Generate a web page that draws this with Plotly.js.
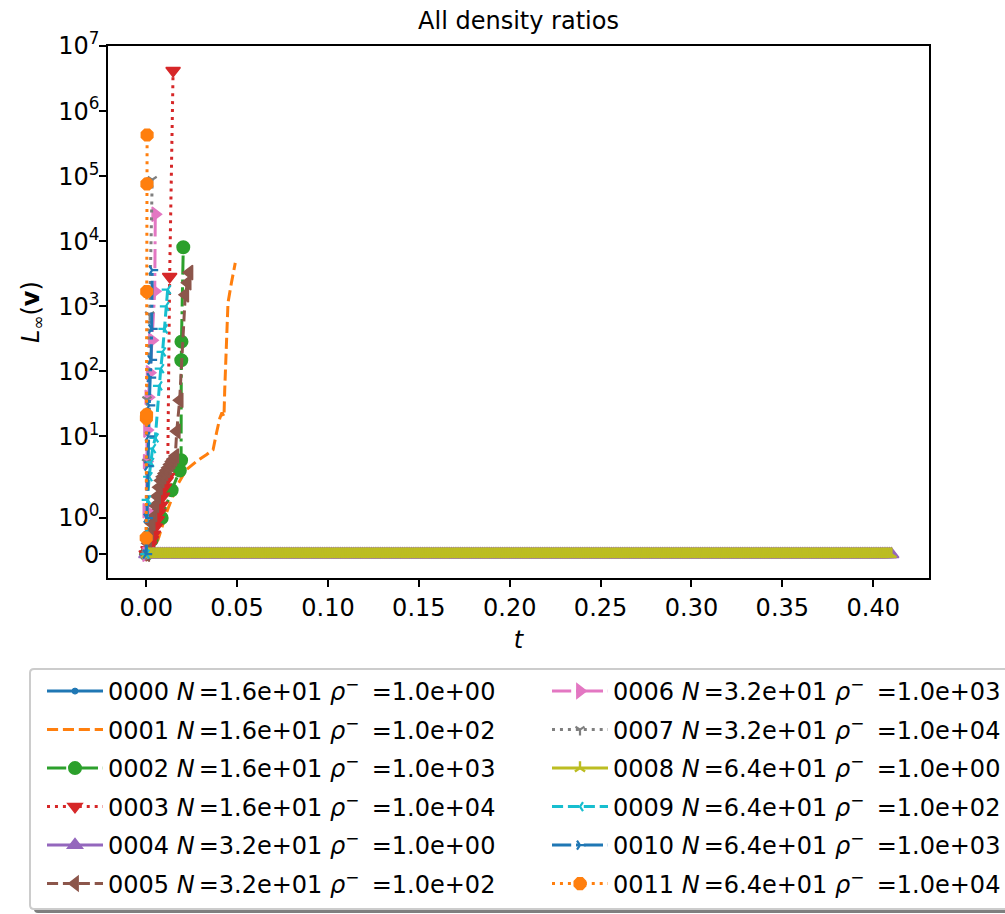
<!DOCTYPE html>
<html>
<head>
<meta charset="utf-8">
<script src="https://cdn.plot.ly/plotly-3.0.1.min.js"></script>
<style>html,body{margin:0;padding:0;background:#fff;}</style>
</head>
<body>
<div id="chart" style="width:1005px;height:914px;"></div>
<script>
// ---------------- data ----------------
const runIds  = ['0000','0001','0002','0003','0004','0005','0006','0007','0008','0009','0010','0011'];
const runN    = ['1.6e+01','1.6e+01','1.6e+01','1.6e+01','3.2e+01','3.2e+01','3.2e+01','3.2e+01','6.4e+01','6.4e+01','6.4e+01','6.4e+01'];
const runRho  = ['1.0e+00','1.0e+02','1.0e+03','1.0e+04','1.0e+00','1.0e+02','1.0e+03','1.0e+04','1.0e+00','1.0e+02','1.0e+03','1.0e+04'];

// runs with density ratio 1 stay at zero for the whole simulated time (output every 0.001)
const tFlat = [
  0.000,0.001,0.002,0.003,0.004,0.005,0.006,0.007,0.008,0.009,0.010,0.011,0.012,0.013,0.014,0.015,0.016,0.017,0.018,0.019,
  0.020,0.021,0.022,0.023,0.024,0.025,0.026,0.027,0.028,0.029,0.030,0.031,0.032,0.033,0.034,0.035,0.036,0.037,0.038,0.039,
  0.040,0.041,0.042,0.043,0.044,0.045,0.046,0.047,0.048,0.049,0.050,0.051,0.052,0.053,0.054,0.055,0.056,0.057,0.058,0.059,
  0.060,0.061,0.062,0.063,0.064,0.065,0.066,0.067,0.068,0.069,0.070,0.071,0.072,0.073,0.074,0.075,0.076,0.077,0.078,0.079,
  0.080,0.081,0.082,0.083,0.084,0.085,0.086,0.087,0.088,0.089,0.090,0.091,0.092,0.093,0.094,0.095,0.096,0.097,0.098,0.099,
  0.100,0.101,0.102,0.103,0.104,0.105,0.106,0.107,0.108,0.109,0.110,0.111,0.112,0.113,0.114,0.115,0.116,0.117,0.118,0.119,
  0.120,0.121,0.122,0.123,0.124,0.125,0.126,0.127,0.128,0.129,0.130,0.131,0.132,0.133,0.134,0.135,0.136,0.137,0.138,0.139,
  0.140,0.141,0.142,0.143,0.144,0.145,0.146,0.147,0.148,0.149,0.150,0.151,0.152,0.153,0.154,0.155,0.156,0.157,0.158,0.159,
  0.160,0.161,0.162,0.163,0.164,0.165,0.166,0.167,0.168,0.169,0.170,0.171,0.172,0.173,0.174,0.175,0.176,0.177,0.178,0.179,
  0.180,0.181,0.182,0.183,0.184,0.185,0.186,0.187,0.188,0.189,0.190,0.191,0.192,0.193,0.194,0.195,0.196,0.197,0.198,0.199,
  0.200,0.201,0.202,0.203,0.204,0.205,0.206,0.207,0.208,0.209,0.210,0.211,0.212,0.213,0.214,0.215,0.216,0.217,0.218,0.219,
  0.220,0.221,0.222,0.223,0.224,0.225,0.226,0.227,0.228,0.229,0.230,0.231,0.232,0.233,0.234,0.235,0.236,0.237,0.238,0.239,
  0.240,0.241,0.242,0.243,0.244,0.245,0.246,0.247,0.248,0.249,0.250,0.251,0.252,0.253,0.254,0.255,0.256,0.257,0.258,0.259,
  0.260,0.261,0.262,0.263,0.264,0.265,0.266,0.267,0.268,0.269,0.270,0.271,0.272,0.273,0.274,0.275,0.276,0.277,0.278,0.279,
  0.280,0.281,0.282,0.283,0.284,0.285,0.286,0.287,0.288,0.289,0.290,0.291,0.292,0.293,0.294,0.295,0.296,0.297,0.298,0.299,
  0.300,0.301,0.302,0.303,0.304,0.305,0.306,0.307,0.308,0.309,0.310,0.311,0.312,0.313,0.314,0.315,0.316,0.317,0.318,0.319,
  0.320,0.321,0.322,0.323,0.324,0.325,0.326,0.327,0.328,0.329,0.330,0.331,0.332,0.333,0.334,0.335,0.336,0.337,0.338,0.339,
  0.340,0.341,0.342,0.343,0.344,0.345,0.346,0.347,0.348,0.349,0.350,0.351,0.352,0.353,0.354,0.355,0.356,0.357,0.358,0.359,
  0.360,0.361,0.362,0.363,0.364,0.365,0.366,0.367,0.368,0.369,0.370,0.371,0.372,0.373,0.374,0.375,0.376,0.377,0.378,0.379,
  0.380,0.381,0.382,0.383,0.384,0.385,0.386,0.387,0.388,0.389,0.390,0.391,0.392,0.393,0.394,0.395,0.396,0.397,0.398,0.399,
  0.400,0.401,0.402,0.403,0.404,0.405,0.406,0.407,0.408,0.409,0.410];
const vFlat = [
  0,0,0,0,0,0,0,0,0,0,0,0,0,0,0,0,0,0,0,0,
  0,0,0,0,0,0,0,0,0,0,0,0,0,0,0,0,0,0,0,0,
  0,0,0,0,0,0,0,0,0,0,0,0,0,0,0,0,0,0,0,0,
  0,0,0,0,0,0,0,0,0,0,0,0,0,0,0,0,0,0,0,0,
  0,0,0,0,0,0,0,0,0,0,0,0,0,0,0,0,0,0,0,0,
  0,0,0,0,0,0,0,0,0,0,0,0,0,0,0,0,0,0,0,0,
  0,0,0,0,0,0,0,0,0,0,0,0,0,0,0,0,0,0,0,0,
  0,0,0,0,0,0,0,0,0,0,0,0,0,0,0,0,0,0,0,0,
  0,0,0,0,0,0,0,0,0,0,0,0,0,0,0,0,0,0,0,0,
  0,0,0,0,0,0,0,0,0,0,0,0,0,0,0,0,0,0,0,0,
  0,0,0,0,0,0,0,0,0,0,0,0,0,0,0,0,0,0,0,0,
  0,0,0,0,0,0,0,0,0,0,0,0,0,0,0,0,0,0,0,0,
  0,0,0,0,0,0,0,0,0,0,0,0,0,0,0,0,0,0,0,0,
  0,0,0,0,0,0,0,0,0,0,0,0,0,0,0,0,0,0,0,0,
  0,0,0,0,0,0,0,0,0,0,0,0,0,0,0,0,0,0,0,0,
  0,0,0,0,0,0,0,0,0,0,0,0,0,0,0,0,0,0,0,0,
  0,0,0,0,0,0,0,0,0,0,0,0,0,0,0,0,0,0,0,0,
  0,0,0,0,0,0,0,0,0,0,0,0,0,0,0,0,0,0,0,0,
  0,0,0,0,0,0,0,0,0,0,0,0,0,0,0,0,0,0,0,0,
  0,0,0,0,0,0,0,0,0,0,0,0,0,0,0,0,0,0,0,0,
  0,0,0,0,0,0,0,0,0,0,0];

const t0001 = [0, 0.0065, 0.0111, 0.0166, 0.0221, 0.0276, 0.0331, 0.0368, 0.0387, 0.0405, 0.0417, 0.0428, 0.0432, 0.0441, 0.0450, 0.0469, 0.0490];
const v0001 = [0, 0.40, 1.14, 1.87, 3.08, 4.12, 5.22, 6.24, 11.4, 19.1, 23.3, 20.2, 52, 240, 1130, 2300, 4650];

const t0002 = [0, 0.0030, 0.0085, 0.0140, 0.0185, 0.0192, 0.0193, 0.0194, 0.0204];
const v0002 = [0, 0.39, 1.0, 1.77, 3.0, 4.3, 148, 286, 8100];

const t0003 = [0, 0.0010, 0.0020, 0.0030, 0.0040, 0.0050, 0.0060, 0.0070, 0.0080, 0.0090, 0.0100, 0.0110, 0.0118, 0.0129, 0.0148];
const v0003 = [0, 0.12, 0.25, 0.40, 0.55, 0.75, 0.95, 1.15, 1.35, 1.60, 1.85, 2.10, 2.40, 2860, 4.2e6];

const t0005 = [0, 0.001, 0.002, 0.003, 0.004, 0.005, 0.006, 0.007, 0.008, 0.009, 0.010, 0.011, 0.012, 0.013, 0.014, 0.015, 0.016, 0.0168, 0.0184, 0.0215, 0.0228, 0.0238];
const v0005 = [0, 0.30, 0.60, 0.85, 1.10, 1.35, 1.60, 1.85, 2.10, 2.40, 2.70, 3.00, 3.30, 3.70, 4.10, 4.50, 5.00, 12, 36, 1500, 2300, 3300];

const t0006 = [0, 0.0001, 0.0003, 0.0005, 0.0012, 0.0019, 0.0032, 0.0047, 0.0050];
const v0006 = [0, 1.2, 4.1, 12.5, 40, 95, 300, 1700, 2.6e4];

const t0007 = [0, 0.0002, 0.0004, 0.0019, 0.0033];
const v0007 = [0, 4, 36.6, 740, 8.8e4];

const t0009 = [0, 0.0008, 0.0016, 0.0025, 0.0035, 0.0050, 0.0070, 0.0080, 0.0090, 0.0100, 0.0108, 0.0118];
const v0009 = [0, 1.5, 2.4, 4.0, 6.5, 9.5, 60, 110, 200, 450, 1000, 1800];

const t0010 = [0, 0.0004, 0.0008, 0.0012, 0.0017, 0.0022, 0.0027, 0.0030, 0.0033];
const v0010 = [0, 1.0, 3.5, 10, 30, 80, 150, 450, 3600];

const t0011 = [0, 0.0001, 0.0002, 0.0003, 0.0004, 0.0005];
const v0011 = [0.45, 19.1, 21.5, 1690, 7.6e4, 4.3e5];

const yTickVals = [0, 1, 10, 100, 1e3, 1e4, 1e5, 1e6, 1e7];
const yTickText = ['0','10<sup>0</sup>','10<sup>1</sup>','10<sup>2</sup>','10<sup>3</sup>','10<sup>4</sup>','10<sup>5</sup>','10<sup>6</sup>','10<sup>7</sup>'];

const seriesT = [tFlat, t0001, t0002, t0003, tFlat, t0005, t0006, t0007, tFlat, t0009, t0010, t0011];
const seriesV = [vFlat, v0001, v0002, v0003, vFlat, v0005, v0006, v0007, vFlat, v0009, v0010, v0011];

// ---------------- styles ----------------
const colors  = ['#1f77b4','#ff7f0e','#2ca02c','#d62728','#9467bd','#8c564b','#e377c2','#7f7f7f','#bcbd22','#17becf','#1f77b4','#ff7f0e'];
const DASH_SOLID = 'solid', DASH_DASHED = '11.1px,4.8px', DASH_DASHDOT = '19.2px,4.8px,3px,4.8px', DASH_DOT = '3px,4.95px';
const dashes  = [DASH_SOLID, DASH_DASHED, DASH_DASHDOT, DASH_DOT, DASH_SOLID, DASH_DASHED, DASH_DASHDOT, DASH_DOT, DASH_SOLID, DASH_DASHED, DASH_DASHDOT, DASH_DOT];
const symbols = ['circle', null, 'circle', 'triangle-down', 'triangle-up', 'triangle-left', 'triangle-right', 'y-down', 'y-up', 'y-left', 'y-right', 'octagon'];
const msizes  = [6, 0, 12, 12.5, 13, 12.5, 12.5, 7.5, 8.5, 7.5, 7.5, 12.5];
const mlines  = [1, 0, 2, 1.5, 1.5, 1.5, 1.5, 2.2, 2.4, 2.2, 2.2, 1.5];

// symmetric-log transform (base 10, linthresh 2, linscale 1) as used by the original axis
const LINTHRESH = 2, LINSCALE_ADJ = 1 / (1 - 1 / 10);
function symlog(v) {
  const a = Math.abs(v);
  if (a <= LINTHRESH) return v * LINSCALE_ADJ / LINTHRESH;
  return Math.sign(v) * (LINSCALE_ADJ + Math.log10(a / LINTHRESH));
}

const FONT = 'DejaVu Sans, Liberation Sans, sans-serif';
const FS = 24;

const traces = runIds.map((id, i) => {
  const sym = symbols[i];
  const tr = {
    type: 'scatter',
    x: seriesT[i],
    y: seriesV[i].map(symlog),
    customdata: seriesV[i],
    hovertemplate: 't=%{x}<br>L∞(v)=%{customdata}<extra>' + id + '</extra>',
    mode: sym ? 'lines+markers' : 'lines',
    name: id + ' <i>N</i>\u2006=' + runN[i] + ' <i>ρ</i><sup>−</sup>\u00a0\u2009=' + runRho[i],
    legend: i < 6 ? 'legend' : 'legend2',
    legendgroup: 'g' + i,
    line: {color: colors[i], width: 3, dash: dashes[i]},
    cliponaxis: true
  };
  if (sym) {
    tr.marker = {
      symbol: sym,
      size: msizes[i],
      color: colors[i],
      line: {color: colors[i], width: mlines[i]}
    };
  }
  return tr;
});

// ---------------- layout ----------------
const W = 1005, H = 914;
const PL = 108, PR = 929, PT = 46, PB = 578;
const px2x = p => (p - PL) / (PR - PL);
const py2y = p => (PB - p) / (PB - PT);
function roundRect(x0, y0, x1, y1, r) {
  const X = px2x, Y = py2y;
  return 'M' + X(x0 + r) + ',' + Y(y0) +
    ' L' + X(x1 - r) + ',' + Y(y0) + ' Q' + X(x1) + ',' + Y(y0) + ' ' + X(x1) + ',' + Y(y0 + r) +
    ' L' + X(x1) + ',' + Y(y1 - r) + ' Q' + X(x1) + ',' + Y(y1) + ' ' + X(x1 - r) + ',' + Y(y1) +
    ' L' + X(x0 + r) + ',' + Y(y1) + ' Q' + X(x0) + ',' + Y(y1) + ' ' + X(x0) + ',' + Y(y1 - r) +
    ' L' + X(x0) + ',' + Y(y0 + r) + ' Q' + X(x0) + ',' + Y(y0) + ' ' + X(x0 + r) + ',' + Y(y0) + ' Z';
}

const legendCommon = {
  orientation: 'v',
  xanchor: 'left', yanchor: 'top',
  bgcolor: 'rgba(0,0,0,0)', borderwidth: 0,
  font: {family: FONT, size: FS, color: '#000'},
  itemwidth: 56,
  traceorder: 'grouped',
  tracegroupgap: 4.3,
  itemclick: false, itemdoubleclick: false
};

const layout = {
  width: W, height: H,
  margin: {l: PL, r: W - PR, t: PT, b: H - PB, autoexpand: false},
  paper_bgcolor: '#fff', plot_bgcolor: '#fff',
  font: {family: FONT, size: FS, color: '#000'},
  title: {text: 'All density ratios', font: {family: FONT, size: 24, color: '#000'},
          x: 0.5, xref: 'paper', xanchor: 'center', y: 1 - 21 / H, yref: 'container', yanchor: 'middle'},
  xaxis: {
    range: [-0.02102, 0.4307], dtick: 0.05, tick0: 0, tickformat: '.2f',
    ticks: 'outside', ticklen: 7, tickwidth: 1.6, tickcolor: '#000',
    showline: true, linecolor: '#000', linewidth: 1.6, mirror: true,
    showgrid: false, zeroline: false,
    tickfont: {family: FONT, size: FS, color: '#000'},
    title: {text: '<i>t</i>', font: {family: FONT, size: FS, color: '#000'}, standoff: 11}
  },
  yaxis: {
    range: [-0.366, 7.811],
    tickmode: 'array', tickvals: yTickVals.map(symlog), ticktext: yTickText,
    ticks: 'outside', ticklen: 7, tickwidth: 1.6, tickcolor: '#000',
    ticklabelstandoff: -5,
    showline: true, linecolor: '#000', linewidth: 1.6, mirror: true,
    showgrid: false, zeroline: false,
    tickfont: {family: FONT, size: FS, color: '#000'},
    title: {text: '<i>L</i><sub>∞</sub>(<b>v</b>)', font: {family: FONT, size: FS, color: '#000'}, standoff: 12}
  },
  legend:  Object.assign({}, legendCommon, {x: px2x(42),  y: py2y(669)}),
  legend2: Object.assign({}, legendCommon, {x: px2x(547), y: py2y(669)}),
  shapes: [
    {type: 'path', xref: 'paper', yref: 'paper', layer: 'above', path: roundRect(34, 673, 1040, 913, 4),
     fillcolor: 'rgba(0,0,0,0.5)', line: {width: 0}},
    {type: 'path', xref: 'paper', yref: 'paper', layer: 'above', path: roundRect(30, 669, 1036, 909, 4),
     fillcolor: '#ffffff', line: {color: '#cccccc', width: 2}}
  ],
  hovermode: 'closest'
};

Plotly.newPlot('chart', traces, layout, {displayModeBar: false, responsive: false});
</script>
</body>
</html>
